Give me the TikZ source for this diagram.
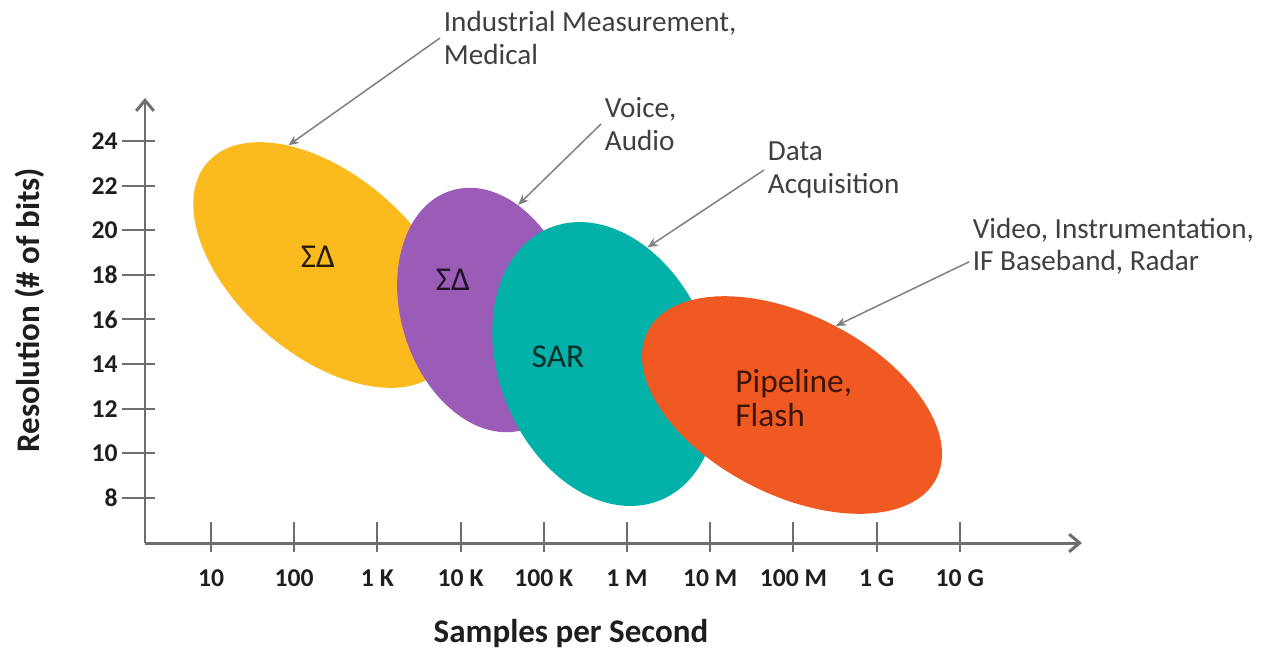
\documentclass[tikz,border=0pt]{standalone}
\usepackage{fontspec}
\setmainfont{Carlito}
\usetikzlibrary{arrows.meta,shapes.geometric}

\definecolor{sdYellow}{HTML}{FBBA1E}
\definecolor{sdPurple}{HTML}{9A5CB6}
\definecolor{sarTeal}{HTML}{02B2A8}
\definecolor{pipeOrange}{HTML}{F05A22}
\definecolor{axisGray}{HTML}{6E6E6E}
\definecolor{leaderGray}{HTML}{808080}
\definecolor{noteText}{HTML}{404040}
\definecolor{titleText}{HTML}{1E1E1E}

\tikzset{
  region/.style={ellipse, draw=none, inner sep=0pt},
  regionlabel/.style={font=\fontsize{19}{19}\selectfont, align=left, inner sep=0pt},
  note/.style={font=\fontsize{16.6}{18.4}\selectfont, text=noteText, align=left, anchor=west, inner sep=2pt},
  leader/.style={draw=leaderGray, line width=0.85pt, -{Stealth[length=6pt,width=5pt]}},
  axisline/.style={draw=axisGray, line width=1.7pt, -{Straight Barb[length=6pt,width=10pt]}},
  tickmark/.style={draw=axisGray, line width=1.2pt},
  ticklabel/.style={font=\bfseries\fontsize{14.6}{16}\selectfont, text=titleText, inner sep=0pt},
  axistitle/.style={font=\bfseries\fontsize{18.8}{20}\selectfont, text=titleText, inner sep=0pt}
}

\begin{document}
\begin{tikzpicture}[x=0.02cm, y=-0.02cm]
  \useasboundingbox (0,0) rectangle (1270,650);
  \fill[white] (0,0) rectangle (1270,650);

  % converter regions, back to front
  \node[region, fill=sdYellow, minimum width=6.24cm, minimum height=3.6cm, rotate=-41] (yel) at (325,265) {};
  \node[region, fill=sdPurple, minimum width=5.0cm, minimum height=3.48cm, rotate=-73] (pur) at (488,310) {};
  \node[region, fill=sarTeal, minimum width=5.88cm, minimum height=4.24cm, rotate=-68] (teal) at (605,364) {};
  \node[region, fill=pipeOrange, minimum width=6.48cm, minimum height=3.6cm, rotate=-27] (ora) at (792,405) {};

  % region labels
  \node[regionlabel, text=black!85!sdYellow] (lblyel) at (318,257) {ΣΔ};
  \node[regionlabel, text=black!80!sdPurple] (lblpur) at (453,280) {ΣΔ};
  \node[regionlabel, text=black!75!sarTeal] (lblsar) at (558,357) {SAR};
  \node[regionlabel, text=black!75!pipeOrange, anchor=west] (lblpipe) at (735,398) {Pipeline,\\Flash};

  % axes
  \coordinate (origin) at (145,543);
  \coordinate (ytop) at (145,98);
  \coordinate (xend) at (1082,543);
  \draw[axisline] (origin) -- (ytop);
  \draw[axisline] (origin) -- (xend);

  % resolution ticks
  \foreach \v [count=\i from 0] in {24,22,20,18,16,14,12,10,8} {
    \pgfmathsetmacro{\yy}{141+\i*44.6}
    \draw[tickmark] (122,\yy) -- (155,\yy);
    \node[ticklabel, anchor=east] (ry\v) at (118,\yy) {\v};
  }

  % sample-rate ticks
  \foreach \lab [count=\i from 0] in {10,100,1 K,10 K,100 K,1 M,10 M,100 M,1 G,10 G} {
    \pgfmathsetmacro{\xx}{211+\i*83.2}
    \draw[tickmark] (\xx,522) -- (\xx,552);
    \node[ticklabel] (sx\i) at (\xx,578) {\lab};
  }

  % axis titles
  \node[axistitle] (xtitle) at (571,633) {Samples per Second};
  \node[axistitle, rotate=90] (ytitle) at (30,310) {Resolution (\# of bits)};

  % application notes
  \node[note] (ind) at (440,38) {Industrial Measurement,\\Medical};
  \node[note] (voice) at (601,124) {Voice,\\Audio};
  \node[note] (daq) at (764,170) {Data\\Acquisition};
  \node[note] (vid) at (969,246) {Video, Instrumentation,\\IF Baseband, Radar};

  \draw[leader] (ind.west) -- (yel.148);
  \draw[leader] (voice.west) -- (pur.147);
  \draw[leader] (daq.west) -- (teal.138);
  \draw[leader] ([yshift=-9pt]vid.west) -- (ora.88);
\end{tikzpicture}
\end{document}
